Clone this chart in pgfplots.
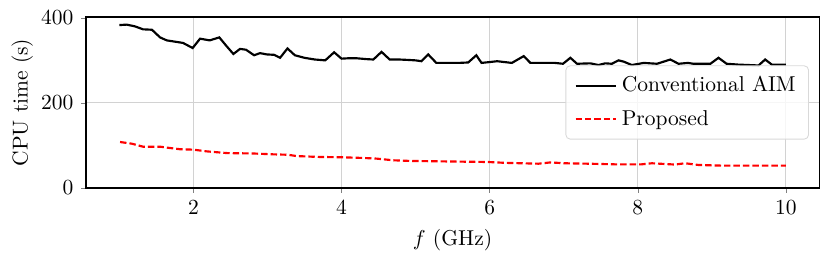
\documentclass[border=0pt]{standalone}
\usepackage{pgfplots}
\pgfplotsset{compat=1.18}
\begin{document}
\begin{tikzpicture}
\useasboundingbox (-40pt,-34pt) rectangle (346pt,87.4pt);
\begin{axis}[
  scale only axis,
  width=341pt, height=79.5pt,
  xmin=0.55, xmax=10.45,
  ymin=0, ymax=402,
  xtick={2,4,6,8,10},
  ytick={0,200,400},
  tick pos=left,
  tick align=outside,
  major tick length=2.3pt,
  grid=major,
  grid style={gray!35, line width=0.4pt},
  axis line style={line width=0.6pt},
  xlabel={$f$ (GHz)},
  ylabel={CPU time (s)},
  ylabel style={yshift=-3pt},
  legend cell align=left,
  legend style={at={(0.986,0.5)}, anchor=east, draw=gray!30, rounded corners=2pt,
    fill=white, fill opacity=0.8, text opacity=1, inner xsep=4pt, inner ysep=3pt,
    row sep=3pt},
  legend image code/.code={\draw[#1] (0pt,0pt) -- (19pt,0pt);},
]
\addplot[black, line width=1pt] coordinates {
(1.00,383) (1.10,384) (1.21,380) (1.32,373) (1.44,372) (1.55,354) (1.64,347)
(1.75,344) (1.86,341) (1.99,329) (2.09,351) (2.22,347) (2.35,354) (2.45,333)
(2.54,315) (2.63,327) (2.71,325) (2.82,312) (2.90,317) (2.99,314) (3.09,313)
(3.17,306) (3.27,328) (3.37,312) (3.50,306) (3.64,302) (3.78,300) (3.90,319)
(4.00,304) (4.10,305) (4.20,305) (4.33,303) (4.43,302) (4.54,320) (4.65,302)
(4.78,302) (4.90,301) (5.00,300) (5.08,298) (5.17,314) (5.28,294) (5.45,294)
(5.58,294) (5.71,295) (5.82,312) (5.89,294) (6.00,296) (6.10,298) (6.20,296)
(6.30,294) (6.46,310) (6.55,294) (6.70,294) (6.88,294) (6.99,292) (7.09,306)
(7.18,292) (7.36,293) (7.47,289) (7.56,293) (7.65,292) (7.74,300) (7.81,297)
(7.92,289) (8.08,294) (8.26,292) (8.44,302) (8.55,292) (8.68,294) (8.75,292)
(8.98,292) (9.09,306) (9.20,292) (9.36,290) (9.50,289) (9.63,288) (9.72,302)
(9.81,290) (10.00,290)
};
\addlegendentry{Conventional AIM}
\addplot[red, line width=1pt, dash pattern=on 3pt off 1.4pt] coordinates {
(1.01,108) (1.17,104) (1.32,97) (1.55,97) (1.68,94) (1.82,91) (2.00,90)
(2.18,86) (2.45,82) (2.81,81) (3.08,79) (3.28,78) (3.39,75) (3.67,73)
(4.02,72) (4.29,70.5) (4.47,69) (4.70,65) (4.93,63.5) (5.55,62) (5.98,61)
(6.21,59) (6.66,57) (6.82,60) (7.02,58) (7.33,57) (7.69,55.5) (8.05,55.5)
(8.19,58) (8.50,55) (8.64,58) (8.82,54) (9.13,52.5) (9.58,52.5) (10.00,52.5)
};
\addlegendentry{Proposed}
\end{axis}
\end{tikzpicture}
\end{document}
